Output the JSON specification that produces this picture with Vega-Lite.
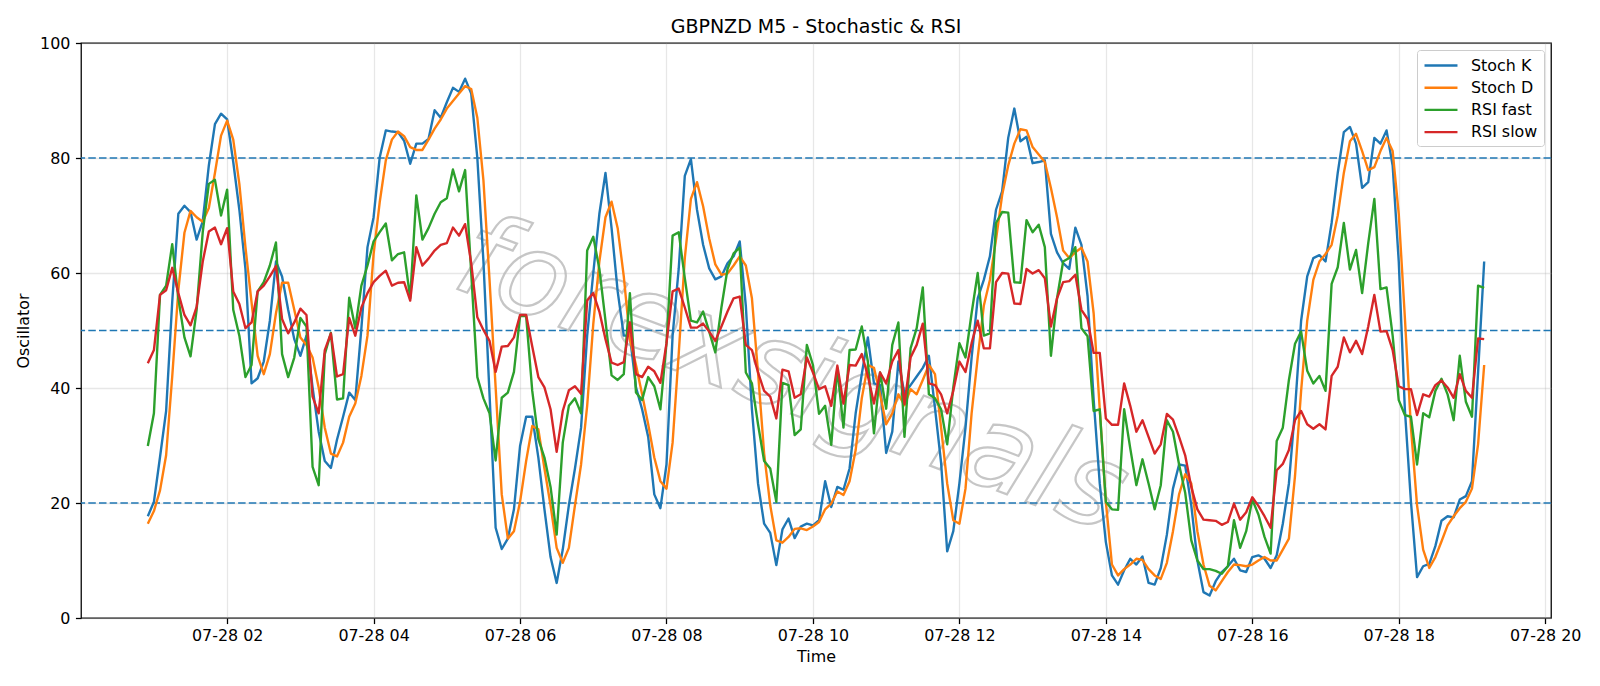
{
"$schema": "https://vega.github.io/schema/vega-lite/v6.json",
"width": 1470, "height": 575,
"autosize": {"type": "none"},
"padding": {"left": 81, "top": 43, "right": 49, "bottom": 68},
"background": "white",
"title": {"text": "GBPNZD M5 - Stochastic & RSI", "fontSize": 19, "fontWeight": "normal", "color": "black", "anchor": "middle", "offset": -2},
"config": {
 "font": "DejaVu Sans",
 "view": {"stroke": "black", "strokeWidth": 1.27},
 "axis": {"domain": false, "grid": true, "gridColor": "#b0b0b0", "gridOpacity": 0.3, "gridWidth": 1.27, "tickColor": "black", "tickSize": 5.56, "tickWidth": 1.27, "labelColor": "black", "labelFontSize": 15.9, "labelPadding": 5.56, "titleColor": "black", "titleFontSize": 15.9, "titleFontWeight": "normal", "labelFlush": false, "labelOverlap": false}
},
"layer": [
 {
  "data": {"values": [{"t": "2024-07-28T09:42:30", "v": 42, "w": "forexsignals"}]},
  "mark": {"type": "text", "angle": 20.5, "fontSize": 116, "fontStyle": "italic", "align": "center", "baseline": "middle", "fill": "white", "fillOpacity": 0, "stroke": "#b8b8b8", "strokeWidth": 2.2, "strokeOpacity": 0.8},
  "encoding": {
   "x": {"field": "t", "type": "temporal", "scale": {"domain": [{"year": 2024, "month": 7, "date": 28, "hours": 0, "minutes": 0, "seconds": 15}, {"year": 2024, "month": 7, "date": 28, "hours": 20, "minutes": 4, "seconds": 45}]}},
   "y": {"field": "v", "type": "quantitative", "scale": {"domain": [0, 100]}},
   "text": {"field": "w"}
  }
 },
 {
  "data": {"values": [{"v": 80}, {"v": 50}, {"v": 20}]},
  "mark": {"type": "rule", "color": "#1f77b4", "strokeDash": [7.5, 3.2], "strokeWidth": 1.6},
  "encoding": {"y": {"field": "v", "type": "quantitative"}}
 },
 {
  "data": {"values": [
{"t":"2024-07-28T00:55","K":17.7,"D":16.4,"F":29.9,"S":44.3},
{"t":"2024-07-28T01:00","K":20.2,"D":18.6,"F":35.6,"S":46.6},
{"t":"2024-07-28T01:05","K":28,"D":22.2,"F":56.2,"S":56.2},
{"t":"2024-07-28T01:10","K":36,"D":28.3,"F":57.8,"S":57},
{"t":"2024-07-28T01:15","K":55,"D":42,"F":65,"S":60.9},
{"t":"2024-07-28T01:20","K":70.3,"D":57,"F":55.6,"S":56.5},
{"t":"2024-07-28T01:25","K":71.7,"D":67,"F":48.8,"S":52.7},
{"t":"2024-07-28T01:30","K":70.6,"D":70.8,"F":45.5,"S":50.9},
{"t":"2024-07-28T01:35","K":65.8,"D":69.7,"F":53.6,"S":54.1},
{"t":"2024-07-28T01:40","K":69,"D":68.9,"F":67.1,"S":62},
{"t":"2024-07-28T01:45","K":78.7,"D":71.3,"F":75.5,"S":67.2},
{"t":"2024-07-28T01:50","K":85.9,"D":77.4,"F":76.2,"S":67.9},
{"t":"2024-07-28T01:55","K":87.7,"D":83.9,"F":70,"S":65},
{"t":"2024-07-28T02:00","K":86.7,"D":86.5,"F":74.5,"S":67.8},
{"t":"2024-07-28T02:05","K":79.3,"D":83.2,"F":53.6,"S":56.8},
{"t":"2024-07-28T02:10","K":71,"D":75.5,"F":49.1,"S":54.6},
{"t":"2024-07-28T02:15","K":60.7,"D":64.5,"F":41.9,"S":50.4},
{"t":"2024-07-28T02:20","K":40.8,"D":54.9,"F":44,"S":51.4},
{"t":"2024-07-28T02:25","K":41.7,"D":45.6,"F":56.8,"S":56.8},
{"t":"2024-07-28T02:30","K":44.6,"D":42.4,"F":58.4,"S":57.8},
{"t":"2024-07-28T02:35","K":51.7,"D":45.9,"F":61.3,"S":59.4},
{"t":"2024-07-28T02:40","K":62,"D":53,"F":65.3,"S":61.2},
{"t":"2024-07-28T02:45","K":59.4,"D":58.3,"F":45.9,"S":52},
{"t":"2024-07-28T02:50","K":53.6,"D":58.3,"F":41.9,"S":49.5},
{"t":"2024-07-28T02:55","K":48.5,"D":53.6,"F":45.3,"S":51.4},
{"t":"2024-07-28T03:00","K":45.6,"D":48.8,"F":52.2,"S":53.8},
{"t":"2024-07-28T03:05","K":49.1,"D":47.5,"F":50.7,"S":52.7},
{"t":"2024-07-28T03:10","K":40.1,"D":45.3,"F":26.3,"S":38.5},
{"t":"2024-07-28T03:15","K":32.4,"D":40.1,"F":23.1,"S":35.6},
{"t":"2024-07-28T03:20","K":27.3,"D":33.1,"F":45.9,"S":46.6},
{"t":"2024-07-28T03:25","K":26.1,"D":28.6,"F":49.6,"S":49.5},
{"t":"2024-07-28T03:30","K":31,"D":28.1,"F":38,"S":42},
{"t":"2024-07-28T03:35","K":35,"D":30.5,"F":38.2,"S":42.4},
{"t":"2024-07-28T03:40","K":39.2,"D":35,"F":55.7,"S":52.2},
{"t":"2024-07-28T03:45","K":37.9,"D":37.3,"F":50.4,"S":49.1},
{"t":"2024-07-28T03:50","K":50.4,"D":42.1,"F":57.8,"S":54},
{"t":"2024-07-28T03:55","K":64.5,"D":49.1,"F":61.3,"S":56.5},
{"t":"2024-07-28T04:00","K":69.7,"D":63.3,"F":65.5,"S":58.4},
{"t":"2024-07-28T04:05","K":80.1,"D":72.3,"F":67.1,"S":59.5},
{"t":"2024-07-28T04:10","K":84.8,"D":79.6,"F":68.6,"S":60.4},
{"t":"2024-07-28T04:15","K":84.6,"D":83.2,"F":62.2,"S":57.8},
{"t":"2024-07-28T04:20","K":84.5,"D":84.6,"F":63.3,"S":58.3},
{"t":"2024-07-28T04:25","K":83,"D":83.8,"F":63.6,"S":58.4},
{"t":"2024-07-28T04:30","K":79,"D":81.9,"F":55.6,"S":55.2},
{"t":"2024-07-28T04:35","K":82.5,"D":81.4,"F":73.5,"S":64.5},
{"t":"2024-07-28T04:40","K":82.5,"D":81.4,"F":65.8,"S":61.3},
{"t":"2024-07-28T04:45","K":83.3,"D":83.2,"F":67.8,"S":62.5},
{"t":"2024-07-28T04:50","K":88.3,"D":85.1,"F":70.3,"S":63.9},
{"t":"2024-07-28T04:55","K":87,"D":86.7,"F":72.3,"S":64.9},
{"t":"2024-07-28T05:00","K":89.7,"D":88.6,"F":73,"S":65.2},
{"t":"2024-07-28T05:05","K":92.2,"D":89.9,"F":78,"S":67.9},
{"t":"2024-07-28T05:10","K":91.5,"D":91.2,"F":74.2,"S":66.5},
{"t":"2024-07-28T05:15","K":93.8,"D":92.5,"F":77.9,"S":68.5},
{"t":"2024-07-28T05:20","K":91.2,"D":92,"F":60,"S":61.7},
{"t":"2024-07-28T05:25","K":80,"D":87,"F":41.9,"S":52.3},
{"t":"2024-07-28T05:30","K":62,"D":76.1,"F":38.2,"S":50.1},
{"t":"2024-07-28T05:35","K":38.9,"D":58.8,"F":35.6,"S":48.2},
{"t":"2024-07-28T05:40","K":15.7,"D":40.1,"F":27.4,"S":42.8},
{"t":"2024-07-28T05:45","K":12,"D":21.5,"F":38.3,"S":47.2},
{"t":"2024-07-28T05:50","K":13.8,"D":13.8,"F":39.2,"S":47.3},
{"t":"2024-07-28T05:55","K":18.9,"D":15.1,"F":42.8,"S":48.8},
{"t":"2024-07-28T06:00","K":29.9,"D":20.2,"F":52.5,"S":52.7},
{"t":"2024-07-28T06:05","K":35,"D":27.3,"F":52.5,"S":52.7},
{"t":"2024-07-28T06:10","K":35,"D":33.4,"F":39.5,"S":47.2},
{"t":"2024-07-28T06:15","K":27.9,"D":32.8,"F":31.1,"S":41.9},
{"t":"2024-07-28T06:20","K":18.9,"D":26,"F":27.9,"S":40.1},
{"t":"2024-07-28T06:25","K":10.6,"D":19.6,"F":22.8,"S":36.3},
{"t":"2024-07-28T06:30","K":6.1,"D":12.2,"F":14.5,"S":28.9},
{"t":"2024-07-28T06:35","K":11.9,"D":9.6,"F":30.5,"S":36},
{"t":"2024-07-28T06:40","K":19.6,"D":12.2,"F":36.9,"S":39.6},
{"t":"2024-07-28T06:45","K":26,"D":19.6,"F":38.2,"S":40.3},
{"t":"2024-07-28T06:50","K":33.1,"D":26.7,"F":35.6,"S":39},
{"t":"2024-07-28T06:55","K":49.1,"D":36.9,"F":63.9,"S":55.2},
{"t":"2024-07-28T07:00","K":60,"D":51.1,"F":66.3,"S":56.5},
{"t":"2024-07-28T07:05","K":70.3,"D":62,"F":60.7,"S":53.3},
{"t":"2024-07-28T07:10","K":77.4,"D":69.7,"F":51.7,"S":48.5},
{"t":"2024-07-28T07:15","K":67.8,"D":72.4,"F":42.2,"S":44.4},
{"t":"2024-07-28T07:20","K":56.8,"D":67.8,"F":41.4,"S":44},
{"t":"2024-07-28T07:25","K":49.1,"D":59.4,"F":42.4,"S":44.5},
{"t":"2024-07-28T07:30","K":49.1,"D":48.5,"F":56.5,"S":51.4},
{"t":"2024-07-28T07:35","K":40.1,"D":44,"F":39.2,"S":42.4},
{"t":"2024-07-28T07:40","K":36.3,"D":38.9,"F":37.9,"S":41.9},
{"t":"2024-07-28T07:45","K":31.5,"D":33.7,"F":41.9,"S":43.7},
{"t":"2024-07-28T07:50","K":21.5,"D":27.9,"F":40.3,"S":42.9},
{"t":"2024-07-28T07:55","K":19.1,"D":23.8,"F":36.3,"S":40.9},
{"t":"2024-07-28T08:00","K":26.7,"D":22.5,"F":47.8,"S":47.8},
{"t":"2024-07-28T08:05","K":49.1,"D":30.5,"F":66.5,"S":56.8},
{"t":"2024-07-28T08:10","K":60.7,"D":45.9,"F":67.1,"S":57.3},
{"t":"2024-07-28T08:15","K":76.9,"D":62.6,"F":59.1,"S":54},
{"t":"2024-07-28T08:20","K":79.8,"D":72.9,"F":51.7,"S":50.5},
{"t":"2024-07-28T08:25","K":71,"D":75.8,"F":51.4,"S":50.5},
{"t":"2024-07-28T08:30","K":64.9,"D":71.6,"F":53.3,"S":51.2},
{"t":"2024-07-28T08:35","K":60.8,"D":66,"F":49.8,"S":49.8},
{"t":"2024-07-28T08:40","K":58.9,"D":61.5,"F":46.2,"S":48.2},
{"t":"2024-07-28T08:45","K":59.4,"D":59.7,"F":54,"S":50.7},
{"t":"2024-07-28T08:50","K":61.7,"D":59.9,"F":60.7,"S":53.3},
{"t":"2024-07-28T08:55","K":62.9,"D":61.3,"F":63.4,"S":55.6},
{"t":"2024-07-28T09:00","K":65.5,"D":62.9,"F":64.4,"S":55.9},
{"t":"2024-07-28T09:05","K":54.3,"D":61.3,"F":42.7,"S":47.5},
{"t":"2024-07-28T09:10","K":36.3,"D":55.6,"F":40.8,"S":46.6},
{"t":"2024-07-28T09:15","K":23.4,"D":42.7,"F":33.7,"S":42.7},
{"t":"2024-07-28T09:20","K":16.4,"D":28.6,"F":27.3,"S":39.5},
{"t":"2024-07-28T09:25","K":14.8,"D":19.6,"F":26,"S":38.5},
{"t":"2024-07-28T09:30","K":9.2,"D":13.5,"F":20.2,"S":34.7},
{"t":"2024-07-28T09:35","K":15.4,"D":13.1,"F":40.9,"S":43.2},
{"t":"2024-07-28T09:40","K":17.3,"D":14.1,"F":40.5,"S":42.9},
{"t":"2024-07-28T09:45","K":13.9,"D":15.5,"F":31.8,"S":38.3},
{"t":"2024-07-28T09:50","K":15.9,"D":15.6,"F":32.8,"S":38.9},
{"t":"2024-07-28T09:55","K":16.4,"D":15.3,"F":47.5,"S":45.3},
{"t":"2024-07-28T10:00","K":16.1,"D":15.9,"F":44,"S":42.7},
{"t":"2024-07-28T10:05","K":17,"D":16.7,"F":35.5,"S":39.8},
{"t":"2024-07-28T10:10","K":23.8,"D":18.9,"F":36.9,"S":40.3},
{"t":"2024-07-28T10:15","K":19.3,"D":19.9,"F":30.1,"S":36.9},
{"t":"2024-07-28T10:20","K":22.8,"D":22,"F":43.4,"S":43.9},
{"t":"2024-07-28T10:25","K":22.3,"D":21.4,"F":33.1,"S":37.3},
{"t":"2024-07-28T10:30","K":26,"D":23.8,"F":46.6,"S":44},
{"t":"2024-07-28T10:35","K":35.6,"D":29.2,"F":46.7,"S":43.9},
{"t":"2024-07-28T10:40","K":42.4,"D":38.2,"F":50.7,"S":45.9},
{"t":"2024-07-28T10:45","K":48.8,"D":44,"F":44.6,"S":42.1},
{"t":"2024-07-28T10:50","K":40.8,"D":43.5,"F":32.1,"S":37.3},
{"t":"2024-07-28T10:55","K":40.5,"D":38.9,"F":42.7,"S":42.7},
{"t":"2024-07-28T11:00","K":28.7,"D":33.7,"F":36.4,"S":40.8},
{"t":"2024-07-28T11:05","K":32.4,"D":35.6,"F":47.5,"S":44.6},
{"t":"2024-07-28T11:10","K":44.6,"D":38.9,"F":51.4,"S":46.6},
{"t":"2024-07-28T11:15","K":39,"D":37,"F":31.5,"S":37.2},
{"t":"2024-07-28T11:20","K":40.5,"D":39.8,"F":46.9,"S":45.3},
{"t":"2024-07-28T11:25","K":42,"D":38.9,"F":50.4,"S":47.5},
{"t":"2024-07-28T11:30","K":43.5,"D":41.4,"F":57.5,"S":51.2},
{"t":"2024-07-28T11:35","K":45.6,"D":44,"F":38.9,"S":40.8},
{"t":"2024-07-28T11:40","K":36.5,"D":42.4,"F":38.2,"S":40.5},
{"t":"2024-07-28T11:45","K":27,"D":33.1,"F":36.3,"S":38.9},
{"t":"2024-07-28T11:50","K":11.6,"D":23.4,"F":30.2,"S":35.6},
{"t":"2024-07-28T11:55","K":15.1,"D":17,"F":40.1,"S":39.5},
{"t":"2024-07-28T12:00","K":23.4,"D":16.4,"F":47.8,"S":44.6},
{"t":"2024-07-28T12:05","K":33.1,"D":22.5,"F":45.3,"S":42.8},
{"t":"2024-07-28T12:10","K":45.3,"D":35.6,"F":53,"S":47.8},
{"t":"2024-07-28T12:15","K":55.6,"D":45.3,"F":60,"S":51.7},
{"t":"2024-07-28T12:20","K":58.8,"D":54.3,"F":49.1,"S":46.9},
{"t":"2024-07-28T12:25","K":62.9,"D":58.8,"F":49.5,"S":46.9},
{"t":"2024-07-28T12:30","K":71,"D":65.8,"F":68.7,"S":58.4},
{"t":"2024-07-28T12:35","K":74.2,"D":73.5,"F":70.6,"S":60},
{"t":"2024-07-28T12:40","K":83.5,"D":78.7,"F":70.5,"S":59.9},
{"t":"2024-07-28T12:45","K":88.6,"D":82.5,"F":58.4,"S":54.7},
{"t":"2024-07-28T12:50","K":82.9,"D":85,"F":58.3,"S":54.6},
{"t":"2024-07-28T12:55","K":83.7,"D":84.8,"F":69.2,"S":60.7},
{"t":"2024-07-28T13:00","K":79.1,"D":81.9,"F":67.1,"S":59.9},
{"t":"2024-07-28T13:05","K":79.3,"D":80.6,"F":68.4,"S":60.5},
{"t":"2024-07-28T13:10","K":79.6,"D":79.3,"F":64.5,"S":59.1},
{"t":"2024-07-28T13:15","K":66.8,"D":74.8,"F":45.6,"S":50.7},
{"t":"2024-07-28T13:20","K":63.6,"D":69.7,"F":55.6,"S":55.6},
{"t":"2024-07-28T13:25","K":61.7,"D":63.9,"F":62,"S":58.4},
{"t":"2024-07-28T13:30","K":60.7,"D":62.6,"F":62.6,"S":58.6},
{"t":"2024-07-28T13:35","K":67.9,"D":63.6,"F":64.5,"S":59.7},
{"t":"2024-07-28T13:40","K":64.9,"D":64.4,"F":50.4,"S":53.6},
{"t":"2024-07-28T13:45","K":56,"D":62,"F":49,"S":52},
{"t":"2024-07-28T13:50","K":38,"D":53,"F":36,"S":46.1},
{"t":"2024-07-28T13:55","K":23.4,"D":36.3,"F":36.3,"S":46.1},
{"t":"2024-07-28T14:00","K":13.2,"D":20.2,"F":20.2,"S":34.7},
{"t":"2024-07-28T14:05","K":7.4,"D":9.3,"F":18.9,"S":33.6},
{"t":"2024-07-28T14:10","K":5.8,"D":7.4,"F":18.8,"S":33.6},
{"t":"2024-07-28T14:15","K":8.3,"D":8.5,"F":36.3,"S":40.8},
{"t":"2024-07-28T14:20","K":10.3,"D":9.3,"F":29.5,"S":36.9},
{"t":"2024-07-28T14:25","K":9.3,"D":10.3,"F":23.1,"S":32.4},
{"t":"2024-07-28T14:30","K":10.7,"D":10.1,"F":27.6,"S":34.4},
{"t":"2024-07-28T14:35","K":6.1,"D":8.5,"F":23.4,"S":31.5},
{"t":"2024-07-28T14:40","K":5.8,"D":7.4,"F":18.9,"S":28.6},
{"t":"2024-07-28T14:45","K":8.7,"D":6.8,"F":23.1,"S":30.2},
{"t":"2024-07-28T14:50","K":14.5,"D":9.6,"F":34.4,"S":35.5},
{"t":"2024-07-28T14:55","K":22.5,"D":15.1,"F":32.4,"S":34.5},
{"t":"2024-07-28T15:00","K":26.7,"D":21.5,"F":26.7,"S":31.5},
{"t":"2024-07-28T15:05","K":26.5,"D":25,"F":21.8,"S":28.3},
{"t":"2024-07-28T15:10","K":19.6,"D":23.4,"F":13.5,"S":22.8},
{"t":"2024-07-28T15:15","K":10,"D":15.1,"F":10,"S":18.9},
{"t":"2024-07-28T15:20","K":4.5,"D":9.3,"F":8.5,"S":17.1},
{"t":"2024-07-28T15:25","K":3.9,"D":5.6,"F":8.5,"S":17},
{"t":"2024-07-28T15:30","K":6.4,"D":4.8,"F":8.2,"S":16.9},
{"t":"2024-07-28T15:35","K":8,"D":6.4,"F":7.7,"S":16.2},
{"t":"2024-07-28T15:40","K":9,"D":8,"F":9,"S":16.7},
{"t":"2024-07-28T15:45","K":10.3,"D":9.3,"F":17,"S":19.9},
{"t":"2024-07-28T15:50","K":8.3,"D":9.2,"F":12.2,"S":17.1},
{"t":"2024-07-28T15:55","K":8,"D":9,"F":15.1,"S":18.4},
{"t":"2024-07-28T16:00","K":10.6,"D":9.3,"F":20.6,"S":21},
{"t":"2024-07-28T16:05","K":10.9,"D":10,"F":18,"S":19.5},
{"t":"2024-07-28T16:10","K":10.3,"D":10.6,"F":14.1,"S":17.7},
{"t":"2024-07-28T16:15","K":8.7,"D":10,"F":11.2,"S":15.7},
{"t":"2024-07-28T16:20","K":10.9,"D":10,"F":30.8,"S":25.7},
{"t":"2024-07-28T16:25","K":16.4,"D":11.9,"F":33.1,"S":26.8},
{"t":"2024-07-28T16:30","K":23.4,"D":13.8,"F":41.4,"S":29.2},
{"t":"2024-07-28T16:35","K":36.3,"D":24.7,"F":47.7,"S":34.4},
{"t":"2024-07-28T16:40","K":51.7,"D":39.5,"F":49.8,"S":36},
{"t":"2024-07-28T16:45","K":59.4,"D":51.7,"F":43,"S":33.7},
{"t":"2024-07-28T16:50","K":62.6,"D":58.8,"F":40.8,"S":32.9},
{"t":"2024-07-28T16:55","K":63.1,"D":62,"F":42.1,"S":33.7},
{"t":"2024-07-28T17:00","K":62,"D":63.3,"F":39.5,"S":32.8},
{"t":"2024-07-28T17:05","K":68.7,"D":64.9,"F":58.1,"S":42.1},
{"t":"2024-07-28T17:10","K":77.4,"D":70,"F":61,"S":43.7},
{"t":"2024-07-28T17:15","K":84.5,"D":77.4,"F":68.7,"S":48.8},
{"t":"2024-07-28T17:20","K":85.4,"D":82.9,"F":60.6,"S":46.2},
{"t":"2024-07-28T17:25","K":82.5,"D":84.2,"F":64,"S":48.2},
{"t":"2024-07-28T17:30","K":74.8,"D":81.2,"F":56.5,"S":45.9},
{"t":"2024-07-28T17:35","K":75.8,"D":77.9,"F":65.2,"S":50.7},
{"t":"2024-07-28T17:40","K":83.5,"D":78.4,"F":72.9,"S":56.2},
{"t":"2024-07-28T17:45","K":82.5,"D":81.2,"F":57.2,"S":49.8},
{"t":"2024-07-28T17:50","K":84.8,"D":83.5,"F":57.5,"S":49.9},
{"t":"2024-07-28T17:55","K":78.7,"D":81.2,"F":49.1,"S":46.6},
{"t":"2024-07-28T18:00","K":62,"D":70.3,"F":37.9,"S":40.3},
{"t":"2024-07-28T18:05","K":36.3,"D":52.3,"F":35.3,"S":39.8},
{"t":"2024-07-28T18:10","K":20.2,"D":33.1,"F":35,"S":39.8},
{"t":"2024-07-28T18:15","K":7.1,"D":19.6,"F":26.7,"S":35.3},
{"t":"2024-07-28T18:20","K":9,"D":11.9,"F":35.6,"S":38.9},
{"t":"2024-07-28T18:25","K":9.4,"D":8.7,"F":34.9,"S":38.5},
{"t":"2024-07-28T18:30","K":12.5,"D":10.6,"F":39.5,"S":40.5},
{"t":"2024-07-28T18:35","K":16.9,"D":13.3,"F":41.6,"S":41.3},
{"t":"2024-07-28T18:40","K":17.7,"D":16.1,"F":38.9,"S":40.1},
{"t":"2024-07-28T18:45","K":17.5,"D":17.7,"F":34.4,"S":38.3},
{"t":"2024-07-28T18:50","K":20.6,"D":19.1,"F":45.6,"S":42.4},
{"t":"2024-07-28T18:55","K":21.2,"D":20.2,"F":37.6,"S":39.5},
{"t":"2024-07-28T19:00","K":23.8,"D":22.5,"F":35,"S":38.3},
{"t":"2024-07-28T19:05","K":42.7,"D":30.2,"F":57.8,"S":48.6},
{"t":"2024-07-28T19:10","K":62,"D":44,"F":57.4,"S":48.5}
  ]},
  "transform": [{"fold": ["K", "D", "F", "S"], "as": ["series", "value"]}],
  "mark": {"type": "line", "strokeWidth": 2.38, "strokeJoin": "round"},
  "encoding": {
   "x": {"field": "t", "type": "temporal", "title": "Time",
     "scale": {"domain": [{"year": 2024, "month": 7, "date": 28, "hours": 0, "minutes": 0, "seconds": 15}, {"year": 2024, "month": 7, "date": 28, "hours": 20, "minutes": 4, "seconds": 45}]},
     "axis": {"format": "%m-%d %H", "labelPadding": 3.8, "values": [{"year": 2024, "month": 7, "date": 28, "hours": 2}, {"year": 2024, "month": 7, "date": 28, "hours": 4}, {"year": 2024, "month": 7, "date": 28, "hours": 6}, {"year": 2024, "month": 7, "date": 28, "hours": 8}, {"year": 2024, "month": 7, "date": 28, "hours": 10}, {"year": 2024, "month": 7, "date": 28, "hours": 12}, {"year": 2024, "month": 7, "date": 28, "hours": 14}, {"year": 2024, "month": 7, "date": 28, "hours": 16}, {"year": 2024, "month": 7, "date": 28, "hours": 18}, {"year": 2024, "month": 7, "date": 28, "hours": 20}], "titlePadding": 5.5}},
   "y": {"field": "value", "type": "quantitative", "title": "Oscillator",
     "scale": {"domain": [0, 100]},
     "axis": {"values": [0, 20, 40, 60, 80, 100], "titlePadding": 8}},
   "color": {"field": "series", "type": "nominal",
     "scale": {"domain": ["K", "D", "F", "S"], "range": ["#1f77b4", "#ff7f0e", "#2ca02c", "#d62728"]},
     "legend": {"title": null, "orient": "top-right", "offset": 7, "symbolType": "M-2.06,0H2.06", "symbolSize": 256, "symbolStrokeWidth": 2.38, "symbolOffset": 8.5, "labelFontSize": 15.9, "labelColor": "black", "labelOffset": 20.5, "padding": 6, "rowPadding": 4.2, "fillColor": "rgba(255,255,255,0.8)", "strokeColor": "#cccccc", "cornerRadius": 3,
       "labelExpr": "datum.label == 'K' ? 'Stoch K' : datum.label == 'D' ? 'Stoch D' : datum.label == 'F' ? 'RSI fast' : 'RSI slow'"}}
  }
 }
]
}
